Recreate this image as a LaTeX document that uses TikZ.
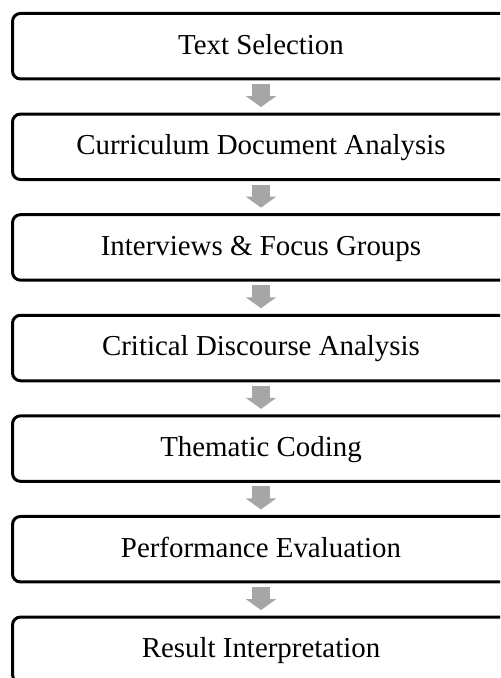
\documentclass[tikz,border=0pt]{standalone}
\usepackage{fontspec}
\setmainfont{Liberation Serif}
\usetikzlibrary{arrows.meta,positioning}

\begin{document}
\begin{tikzpicture}[node distance=17.55pt,
      every node/.style={font=\fontsize{14.45}{17}\selectfont},
      stage/.style={draw, line width=1.5pt, rounded corners=4pt, minimum width=248.5pt, minimum height=32.75pt,
        text height=10pt, text depth=2.1pt, inner sep=0pt, outer sep=0pt},
      flow/.style={draw=gray!70, line width=9.3pt, -{Triangle[width=15pt,length=5.5pt]}, shorten <=2.5pt, shorten >=3.5pt}]
    \clip (0,0) rectangle (250pt,-339pt);
    \node[stage] (sel) at (130.5pt,-23.1pt) {Text Selection};
    \node[stage, below=of sel] (cur) {Curriculum Document Analysis};
    \node[stage, below=of cur] (intv) {Interviews \& Focus Groups};
    \node[stage, below=of intv] (cda) {Critical Discourse Analysis};
    \node[stage, below=of cda] (coding) {Thematic Coding};
    \node[stage, below=of coding] (perf) {Performance Evaluation};
    \node[stage, below=of perf] (res) {Result Interpretation};
    \draw[flow] (sel) -- (cur); \draw[flow] (cur) -- (intv); \draw[flow] (intv) -- (cda);
    \draw[flow] (cda) -- (coding); \draw[flow] (coding) -- (perf); \draw[flow] (perf) -- (res);
  \end{tikzpicture}
\end{document}
